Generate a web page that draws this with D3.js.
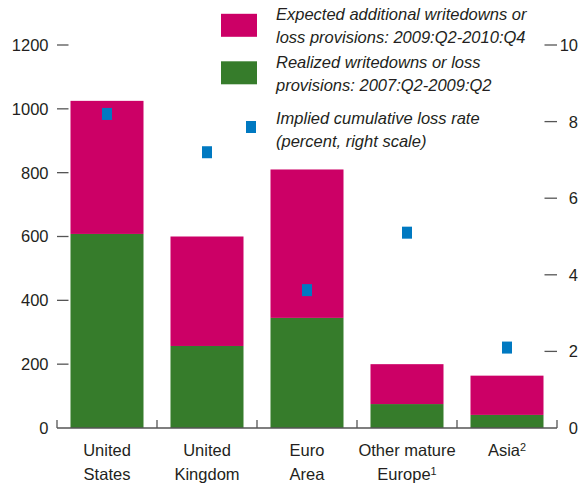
<!DOCTYPE html>
<html>
<head>
<meta charset="utf-8">
<script src="https://cdn.jsdelivr.net/npm/d3@7"></script>
<style>
  html, body { margin: 0; padding: 0; background: #fff; }
  svg text { font-family: "Liberation Sans", Arial, sans-serif; fill: #231f20; }
</style>
</head>
<body>
<svg id="chart" width="585" height="486"></svg>
<script>
// ---- data ----
const categories = ["United States", "United Kingdom", "Euro Area", "Other mature Europe", "Asia"];
const labelLines = [["United", "States"], ["United", "Kingdom"], ["Euro", "Area"], ["Other mature", "Europe"], ["Asia"]];
const footnotes = ["", "", "", "1", "2"];
const realized = [608, 257, 345, 75, 41];
const expected = [417, 343, 465, 125, 123];
const lossRate = [8.2, 7.2, 3.6, 5.1, 2.1];
const leftTicks = [0, 200, 400, 600, 800, 1000, 1200];
const rightTicks = [0, 2, 4, 6, 8, 10];
const legendItems = [
  { key: "expected", lines: ["Expected additional writedowns or", "loss provisions: 2009:Q2-2010:Q4"] },
  { key: "realized", lines: ["Realized writedowns or loss", "provisions: 2007:Q2-2009:Q2"] },
  { key: "rate", lines: ["Implied cumulative loss rate", "(percent, right scale)"] }
];

// ---- styles ----
const colors = { expected: "#cc0066", realized: "#367c2b", rate: "#0079c1" };
const axisColor = "#555";
const fontSize = 16.5;

const svg = d3.select("#chart");
const x0 = 57, x1 = 557, yBase = 428, yTop = 45;

const x = d3.scaleBand().domain(categories).range([x0, x1]).paddingInner(0.27).paddingOuter(0.135);
const yL = d3.scaleLinear().domain([0, 1200]).range([yBase, yTop]);
const yR = d3.scaleLinear().domain([0, 10]).range([yBase, yTop]);

const rows = categories.map((c, i) => ({ c, realized: realized[i], expected: expected[i], rate: lossRate[i] }));
const stack = d3.stack().keys(["realized", "expected"])(rows);

// bars
svg.append("g").selectAll("g").data(stack).join("g")
  .attr("fill", d => colors[d.key])
  .selectAll("rect").data(d => d).join("rect")
  .attr("x", d => x(d.data.c))
  .attr("width", x.bandwidth())
  .attr("y", d => yL(d[1]))
  .attr("height", d => yL(d[0]) - yL(d[1]));

// markers
svg.append("g").selectAll("rect").data(rows).join("rect")
  .attr("fill", colors.rate)
  .attr("x", d => x(d.c) + x.bandwidth() / 2 - 5)
  .attr("y", d => yR(d.rate) - 6)
  .attr("width", 10).attr("height", 12);

// left axis
const gl = svg.append("g");
gl.selectAll("line").data(leftTicks.filter(t => t > 0)).join("line")
  .attr("x1", x0).attr("x2", x0 + 11.5)
  .attr("y1", d => yL(d)).attr("y2", d => yL(d))
  .attr("stroke", axisColor).attr("stroke-width", 1.3);
gl.selectAll("text").data(leftTicks).join("text")
  .attr("x", 48.5).attr("y", d => yL(d)).attr("dy", "0.36em")
  .attr("text-anchor", "end").attr("font-size", fontSize)
  .text(d => d);

// right axis
const gr = svg.append("g");
gr.selectAll("line").data(rightTicks.filter(t => t > 0)).join("line")
  .attr("x1", x1 - 12.5).attr("x2", x1)
  .attr("y1", d => yR(d)).attr("y2", d => yR(d))
  .attr("stroke", axisColor).attr("stroke-width", 1.3);
gr.selectAll("text").data(rightTicks).join("text")
  .attr("x", 578).attr("y", d => yR(d)).attr("dy", "0.36em")
  .attr("text-anchor", "end").attr("font-size", fontSize)
  .text(d => d);

// bottom axis
const gb = svg.append("g");
gb.append("line").attr("x1", x0).attr("x2", x1).attr("y1", yBase).attr("y2", yBase)
  .attr("stroke", axisColor).attr("stroke-width", 1.6);
const bounds = [x0].concat(categories.map(c => x(c) - x.step() * x.paddingInner() / 2).slice(1)).concat([x1]);
gb.selectAll("line.sep").data(bounds).join("line").attr("class", "sep")
  .attr("x1", d => d).attr("x2", d => d).attr("y1", yBase).attr("y2", yBase - 8)
  .attr("stroke", axisColor).attr("stroke-width", 1.3);

// category labels
const gx = svg.append("g");
categories.forEach((c, i) => {
  const cx = x(c) + x.bandwidth() / 2;
  const lines = labelLines[i];
  lines.forEach((ln, j) => {
    const t = gx.append("text").attr("x", cx).attr("y", 456 + j * 23.5)
      .attr("text-anchor", "middle").attr("font-size", fontSize);
    t.append("tspan").text(ln);
    if (j === lines.length - 1 && footnotes[i]) {
      t.append("tspan").attr("font-size", fontSize * 0.66).attr("dy", "-0.45em").text(footnotes[i]);
    }
  });
});

// legend
const lg = svg.append("g");
const legendTop = [20.3, 67.8, 124];
legendItems.forEach((it, i) => {
  const by = legendTop[i];
  if (it.key === "rate") {
    lg.append("rect").attr("x", 246).attr("y", by - 3).attr("width", 10).attr("height", 12).attr("fill", colors.rate);
  } else {
    lg.append("rect").attr("x", 221).attr("y", by - 6.5).attr("width", 36).attr("height", 23).attr("fill", colors[it.key]);
  }
  it.lines.forEach((ln, j) => {
    lg.append("text").attr("x", 276).attr("y", by + j * 23)
      .attr("font-size", fontSize).attr("font-style", "italic").text(ln);
  });
});
</script>
</body>
</html>
